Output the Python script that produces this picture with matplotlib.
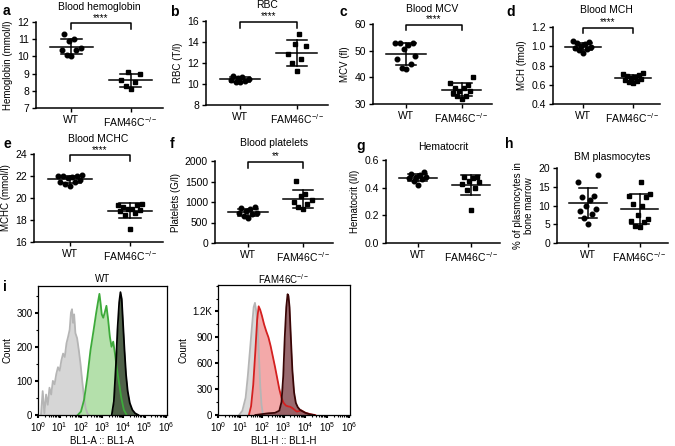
import numpy as np
import matplotlib
matplotlib.use('Agg')
import matplotlib.pyplot as plt
from matplotlib.ticker import FuncFormatter, MultipleLocator, LogLocator, NullFormatter, FixedLocator

plt.rcParams['font.family'] = ['Liberation Sans', 'DejaVu Sans']
plt.rcParams['mathtext.fontset'] = 'custom'
plt.rcParams['mathtext.rm'] = 'Liberation Sans'
plt.rcParams['mathtext.it'] = 'Liberation Sans:italic'
plt.rcParams['mathtext.bf'] = 'Liberation Sans:bold'
plt.rcParams['axes.linewidth'] = 1.1

W, H = 675, 446
fig = plt.figure(figsize=(W / 100, H / 100), dpi=100)
FS = 7
TFS = 7.5

# ---------------- data ----------------
groups = ['WT', 'FAM46C$^{-/-}$']

hgb_wt = [11.3, 11.0, 10.9, 10.5, 10.4, 10.4, 10.1, 10.0]
hgb_ko = [9.1, 9.0, 8.6, 8.5, 8.3, 8.1]

rbc_wt = [10.8, 10.7, 10.6, 10.5, 10.4, 10.3, 10.2, 10.2]
rbc_ko = [14.8, 13.8, 13.6, 12.9, 12.4, 12.0, 11.2]

mcv_wt = [53.0, 53.0, 53.0, 52.0, 50.5, 48.0, 47.0, 45.0, 43.5, 43.0]
mcv_ko = [40.0, 38.0, 37.0, 36.0, 36.0, 35.0, 35.0, 34.0, 33.0, 33.0, 32.0]

mch_wt = [1.05, 1.04, 1.03, 1.02, 1.00, 0.99, 0.98, 0.97, 0.96, 0.93]
mch_ko = [0.72, 0.71, 0.70, 0.69, 0.68, 0.67, 0.66, 0.65, 0.64, 0.63, 0.62]

mchc_wt = [22.1, 22.0, 22.0, 22.0, 21.9, 21.8, 21.6, 21.5, 21.5, 21.3, 21.1]
mchc_ko = [19.5, 19.4, 19.4, 19.2, 19.0, 19.0, 18.9, 18.8, 18.6, 18.5, 17.2]

plt_wt = [880, 850, 820, 780, 740, 720, 700, 660, 620]
plt_ko = [1520, 1200, 1150, 1050, 1000, 950, 880, 830]

hct_wt = [0.51, 0.50, 0.49, 0.48, 0.48, 0.47, 0.46, 0.45, 0.42]
hct_ko = [0.48, 0.48, 0.47, 0.45, 0.44, 0.43, 0.40, 0.38, 0.24]

bm_wt = [18.2, 16.3, 12.5, 12.2, 11.5, 10.0, 9.0, 8.5, 7.8, 6.8, 5.0]
bm_ko = [16.3, 13.0, 12.5, 12.2, 10.5, 9.8, 7.5, 6.3, 6.0, 5.5, 4.5, 4.2]

# flow histograms (log10 fluorescence, count)
wt_unst_x = [0.12, 0.2, 0.28, 0.36, 0.44, 0.52, 0.6, 0.68, 0.76, 0.84, 0.92, 1.0, 1.08, 1.16, 1.24,
             1.32, 1.4, 1.47, 1.53, 1.58, 1.63, 1.68, 1.74, 1.82, 1.9, 1.98, 2.06, 2.14, 2.22, 2.3, 2.38]
wt_unst_y = [0, 70, 5, 60, 30, 80, 60, 100, 90, 120, 140, 130, 160, 180, 170,
             210, 230, 250, 300, 310, 270, 295, 240, 225, 190, 150, 100, 55, 20, 5, 0]
wt_iso_x = [1.85, 2.0, 2.15, 2.3, 2.45, 2.6, 2.72, 2.8, 2.87, 2.92, 2.98, 3.05, 3.12, 3.2,
            3.28, 3.36, 3.44, 3.52, 3.6, 3.68, 3.78, 3.9, 4.02, 4.15]
wt_iso_y = [0, 10, 45, 110, 190, 250, 300, 330, 355, 330, 295, 285, 300, 320,
            280, 230, 200, 215, 180, 140, 100, 50, 15, 0]
wt_stain_x = [3.45, 3.55, 3.65, 3.72, 3.8, 3.86, 3.92, 3.98, 4.05, 4.12, 4.2, 4.3, 4.42, 4.55, 4.7]
wt_stain_y = [0, 40, 150, 250, 330, 360, 340, 270, 190, 120, 70, 35, 15, 5, 0]

ko_unst_x = [0.95, 1.1, 1.25, 1.35, 1.45, 1.55, 1.62, 1.68, 1.74, 1.8, 1.86, 1.92, 1.98, 2.05]
ko_unst_y = [0, 50, 200, 450, 750, 1050, 1250, 1300, 1200, 1050, 700, 350, 120, 0]
ko_iso_x = [1.4, 1.5, 1.6, 1.7, 1.78, 1.85, 1.92, 2.0, 2.1, 2.2, 2.3, 2.4, 2.5, 2.6, 2.7, 2.8,
            2.9, 3.0, 3.1, 3.2, 3.3, 3.4, 3.5, 3.6, 3.7, 3.8, 3.9, 4.0, 4.15, 4.3, 4.45]
ko_iso_y = [0, 100, 350, 750, 1100, 1260, 1220, 1150, 1050, 970, 900, 800, 680, 560, 430, 300,
            200, 140, 110, 100, 95, 80, 60, 40, 45, 55, 40, 25, 15, 5, 0]
ko_stain_x = [1.7, 2.0, 2.3, 2.6, 2.8, 2.9, 2.98, 3.05, 3.12, 3.18, 3.22, 3.27, 3.33, 3.4, 3.48,
              3.56, 3.65, 3.75, 3.85, 4.0, 4.2, 4.4]
ko_stain_y = [0, 10, 20, 25, 50, 150, 450, 900, 1250, 1400, 1380, 1250, 900, 520, 260,
              140, 90, 60, 45, 25, 8, 0]


def px_axes(l, t, r, b):
    return fig.add_axes([l / W, 1 - b / H, (r - l) / W, (b - t) / H])


def ftext(x, y, s, **kw):
    return fig.text(x / W, 1 - y / H, s, **kw)


def offsets(vals, spread):
    pattern = [0, -1, 1, -2, 2, -0.5, 0.5, -1.5, 1.5, -2.5, 2.5, 0.25]
    order = np.argsort(vals)
    off = np.zeros(len(vals))
    for rank, idx in enumerate(order):
        off[idx] = pattern[rank % len(pattern)] * spread
    return off


def dot_panel(rect, letter, title, ylabel, wt, ko, ylim, yticks, sig=None,
              yfmt=None, letter_pos=None, title_y=None):
    ax = px_axes(*rect)
    for i, (vals, mk) in enumerate([(wt, 'o'), (ko, 's')]):
        vals = np.asarray(vals, float)
        x = i + offsets(vals, 0.08)
        ax.plot(x, vals, mk, color='black', ms=3.3, ls='none', clip_on=False, zorder=3)
        m, s = vals.mean(), vals.std(ddof=1)
        ax.plot([i - 0.36, i + 0.36], [m, m], color='black', lw=1.1, zorder=4)
        ax.plot([i, i], [m - s, m + s], color='black', lw=1.1, zorder=4)
        for yy in (m - s, m + s):
            ax.plot([i - 0.18, i + 0.18], [yy, yy], color='black', lw=1.1, zorder=4)
    ax.set_xlim(-0.6, 1.55)
    ax.set_ylim(*ylim)
    ax.set_yticks(yticks)
    if yfmt:
        ax.yaxis.set_major_formatter(FuncFormatter(yfmt))
    ax.set_xticks([0, 1])
    ax.set_xticklabels(groups)
    for sp in ('top', 'right'):
        ax.spines[sp].set_visible(False)
    ax.tick_params(direction='out', length=3, width=1, labelsize=TFS, pad=2)
    ax.set_ylabel(ylabel, fontsize=FS, labelpad=3)
    cx = (rect[0] + rect[2]) / 2
    ftext(cx, title_y, title, fontsize=TFS, ha='center', va='center')
    if sig:
        rng = ylim[1] - ylim[0]
        yb = ylim[1] - 0.01 * rng
        leg = 0.07 * rng
        ax.plot([0, 0, 1, 1], [yb - leg, yb, yb, yb - leg], color='black', lw=1.1, clip_on=False)
        ax.annotate(sig, xy=(0.5, yb), xytext=(0, 0.2), textcoords='offset points',
                    ha='center', va='bottom', fontsize=7)
    if letter_pos:
        ftext(letter_pos[0], letter_pos[1], letter, fontsize=10,
              fontweight='bold', ha='left', va='center')
    return ax


dot_panel((36, 22, 163, 108), 'a', 'Blood hemoglobin', 'Hemoglobin (mmol/l)',
          hgb_wt, hgb_ko, (7, 12), [7, 8, 9, 10, 11, 12], '****', letter_pos=(3, 11), title_y=7)
dot_panel((206, 21, 328, 105), 'b', 'RBC', 'RBC (T/l)',
          rbc_wt, rbc_ko, (8, 16), [8, 10, 12, 14, 16], '****', letter_pos=(170, 12), title_y=5)
dot_panel((373, 24, 492, 104), 'c', 'Blood MCV', 'MCV (fl)',
          mcv_wt, mcv_ko, (30, 60), [30, 40, 50, 60], '****', letter_pos=(339, 12), title_y=9)
dot_panel((553, 27, 660, 104), 'd', 'Blood MCH', 'MCH (fmol)',
          mch_wt, mch_ko, (0.4, 1.2), [0.4, 0.6, 0.8, 1.0, 1.2], '****',
          yfmt=lambda v, p: f'{v:.1f}', letter_pos=(506, 12), title_y=10)
dot_panel((34, 154, 163, 242), 'e', 'Blood MCHC', 'MCHC (mmol/l)',
          mchc_wt, mchc_ko, (16, 24), [16, 18, 20, 22, 24], '****', letter_pos=(4, 144), title_y=139)
dot_panel((215, 161, 333, 243), 'f', 'Blood platelets', 'Platelets (G/l)',
          plt_wt, plt_ko, (0, 2000), [0, 500, 1000, 1500, 2000], '**', letter_pos=(170, 144), title_y=143)
dot_panel((386, 160, 500, 243), 'g', 'Hematocrit', 'Hematocrit (l/l)',
          hct_wt, hct_ko, (0, 0.6), [0.0, 0.2, 0.4, 0.6], None,
          yfmt=lambda v, p: f'{v:.1f}', letter_pos=(356, 146), title_y=147)
dot_panel((557, 168, 668, 243), 'h', 'BM plasmocytes', '% of plasmocytes in\nbone marrow',
          bm_wt, bm_ko, (0, 20), [0, 5, 10, 15, 20], None, letter_pos=(505, 144), title_y=157)


def flow_panel(rect, title, xlabel, curves, ylim, yticks, ymajor_fmt, yminor):
    ax = px_axes(*rect)
    for xs, ys, fc, lc, alpha in curves:
        ax.fill_between(10 ** np.asarray(xs), ys, color=fc, alpha=alpha, lw=0, zorder=1)
    for xs, ys, fc, lc, alpha in curves:
        ax.plot(10 ** np.asarray(xs), ys, color=lc, lw=1.3, zorder=2)
    ax.set_xscale('log')
    ax.set_xlim(10 ** -0.02, 10 ** 6.05)
    ax.set_ylim(*ylim)
    ax.xaxis.set_major_locator(FixedLocator([10.0 ** k for k in range(7)]))
    ax.xaxis.set_minor_locator(LogLocator(base=10, subs=np.arange(2, 10), numticks=20))
    ax.xaxis.set_minor_formatter(NullFormatter())
    ax.set_yticks(yticks)
    ax.yaxis.set_major_formatter(FuncFormatter(ymajor_fmt))
    ax.yaxis.set_minor_locator(MultipleLocator(yminor))
    ax.tick_params(which='major', direction='out', length=2.5, width=1.5, labelsize=FS, pad=1.5)
    ax.tick_params(which='minor', direction='out', length=1.5, width=0.8)
    ax.set_xlabel(xlabel, fontsize=FS, labelpad=1)
    ax.set_ylabel('Count', fontsize=FS, labelpad=3)
    ftext((rect[0] + rect[2]) / 2, 279, title, fontsize=FS, ha='center', va='center')
    for sp in ax.spines.values():
        sp.set_linewidth(0.9)
    return ax


flow_panel((38, 286, 167, 415), 'WT', 'BL1-A :: BL1-A',
           [(wt_unst_x, wt_unst_y, '#d6d6d6', '#b5b5b5', 1.0),
            (wt_iso_x, wt_iso_y, '#b4e0ab', '#3daa3a', 1.0),
            (wt_stain_x, wt_stain_y, '#45583f', '#000000', 0.95)],
           (0, 378), [0, 100, 200, 300], lambda v, p: f'{int(v)}', 50)
flow_panel((218, 285, 350, 415), 'FAM46C$^{-/-}$', 'BL1-H :: BL1-H',
           [(ko_unst_x, ko_unst_y, '#dadada', '#b5b5b5', 1.0),
            (ko_iso_x, ko_iso_y, '#f2a0a0', '#d42020', 0.9),
            (ko_stain_x, ko_stain_y, '#8e5a5f', '#3a0505', 0.9)],
           (0, 1507), [0, 300, 600, 900, 1200],
           lambda v, p: '1.2K' if v >= 1200 else f'{int(v)}', 150)

ftext(3, 287, 'i', fontsize=10, fontweight='bold', ha='left', va='center')

fig.savefig('out.png', dpi=100, facecolor='white')
